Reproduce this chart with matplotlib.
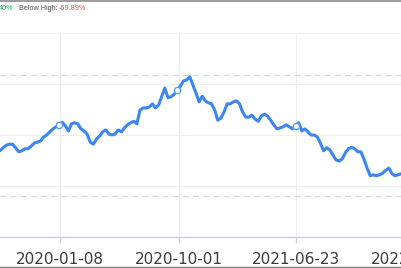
import matplotlib
matplotlib.use("Agg")
import matplotlib.pyplot as plt
import numpy as np
import pandas as pd

# weekly closes (first visible week: 2019-08-26)
start_date = "2019-08-26"
closes = [
    16.9, 17.5, 18.0, 18.2, 18.2, 17.5, 16.7, 16.9, 17.3, 17.3,
    17.8, 18.4, 18.6, 18.8, 19.6, 20.0, 20.6, 21.2, 21.6, 22.0,
    22.5, 21.8, 20.8, 22.2, 22.4, 22.2, 21.2, 20.8, 20.2, 18.6,
    18.2, 19.2, 19.8, 20.6, 21.0, 20.2, 20.0, 20.2, 21.0, 20.6,
    21.4, 22.0, 22.4, 22.7, 22.2, 24.9, 25.3, 25.3, 25.5, 26.1,
    25.3, 25.9, 27.6, 29.2, 27.3, 27.5, 28.0, 28.8, 29.6, 30.6,
    30.8, 31.4, 29.8, 28.2, 26.5, 27.6, 26.7, 26.3, 26.1, 24.9,
    22.9, 23.3, 24.5, 26.1, 26.1, 26.5, 26.7, 26.1, 24.5, 23.5,
    23.5, 23.9, 23.1, 22.7, 23.7, 24.1, 23.7, 22.9, 22.0, 21.2,
    21.4, 21.6, 22.0, 21.6, 21.2, 21.8, 22.4, 20.8, 21.2, 20.6,
    20.0, 20.0, 19.6, 18.4, 16.9, 17.5, 17.1, 16.1, 15.1, 14.9,
    15.3, 16.5, 17.3, 17.6, 17.3, 16.7, 16.7, 15.3, 13.5, 12.0,
    12.2, 12.0, 12.2, 12.5, 13.1, 13.5, 12.4, 12.0, 12.2, 12.4,
]
dates = pd.date_range(start_date, periods=len(closes), freq="7D")

tick_dates = ["2020-01-08", "2020-10-01", "2021-06-23", "2022-03-16"]
high_line = 31.8
low_line = 8.0

header_change = "40%"
header_label = "Below High:"
header_below = "-69.89%"

W, H = 402, 268
fig = plt.figure(figsize=(W / 100, H / 100), dpi=100)

# plot area: top at y=33px, axis at y=237px; x scale 2.25 days per px
x_end = pd.Timestamp("2022-03-31")
days_shown = (x_end - pd.Timestamp(start_date)).days
ax = fig.add_axes([0, (H - 237) / H, days_shown / 2.25 / W, (237 - 33) / H])
ax.set_xlim(pd.Timestamp(start_date), x_end)
ax.set_ylim(0, 40)

grid_c = "#eceff4"
ax.set_yticks([0, 10, 20, 30, 40])
ax.set_yticklabels([])
ax.tick_params(axis="y", length=0)
ax.grid(True, color=grid_c, linewidth=0.8)
ax.set_axisbelow(True)

tick_ts = pd.to_datetime(tick_dates)
ax.set_xticks(tick_ts)
ax.set_xticklabels(tick_dates)
ax.tick_params(axis="x", length=4, width=0.9, color="#c9d1df", pad=7,
               labelsize=11, labelcolor="#3c3c3c")

for side in ["top", "right", "left"]:
    ax.spines[side].set_visible(False)
ax.spines["bottom"].set_color("#c9d1df")
ax.spines["bottom"].set_linewidth(1.0)

plt.rcParams["lines.scale_dashes"] = False
for lvl in [high_line, low_line]:
    ax.axhline(lvl, color="#d3dae6", linewidth=1.0, dashes=(4.3, 3.0))

# hollow symbols on the points at the labelled dates
mark_idx = [int(np.argmin(np.abs((dates - t).days))) for t in tick_ts[:3]]
ax.plot(dates, closes, color="#3b86f0", linewidth=2.2,
        solid_joinstyle="round", solid_capstyle="round",
        marker="o", markevery=mark_idx, markersize=4.5,
        markerfacecolor="white", markeredgecolor="#5aa2f7", markeredgewidth=1.0)

# header strip
fig.text(13.5 / W, 1 - 8 / H, header_change, color="#1fae62", fontsize=5.2,
         family="Liberation Sans", ha="right", va="center")
fig.text(19 / W, 1 - 8 / H, header_label, color="#555555", fontsize=5.2,
         family="Liberation Sans", ha="left", va="center")
fig.text(59 / W, 1 - 8 / H, header_below, color="#e84a4a", fontsize=5.2,
         family="Liberation Sans", ha="left", va="center")

# container borders
fig.add_artist(plt.Line2D([0, 1], [1 - 0.5 / H, 1 - 0.5 / H], color="#8a8a8a",
                          linewidth=1.2, transform=fig.transFigure))
fig.add_artist(plt.Line2D([0, 1], [1.0 / H, 1.0 / H], color="#7a7a7a",
                          linewidth=1.0, transform=fig.transFigure))

fig.savefig("out.png", dpi=100)
